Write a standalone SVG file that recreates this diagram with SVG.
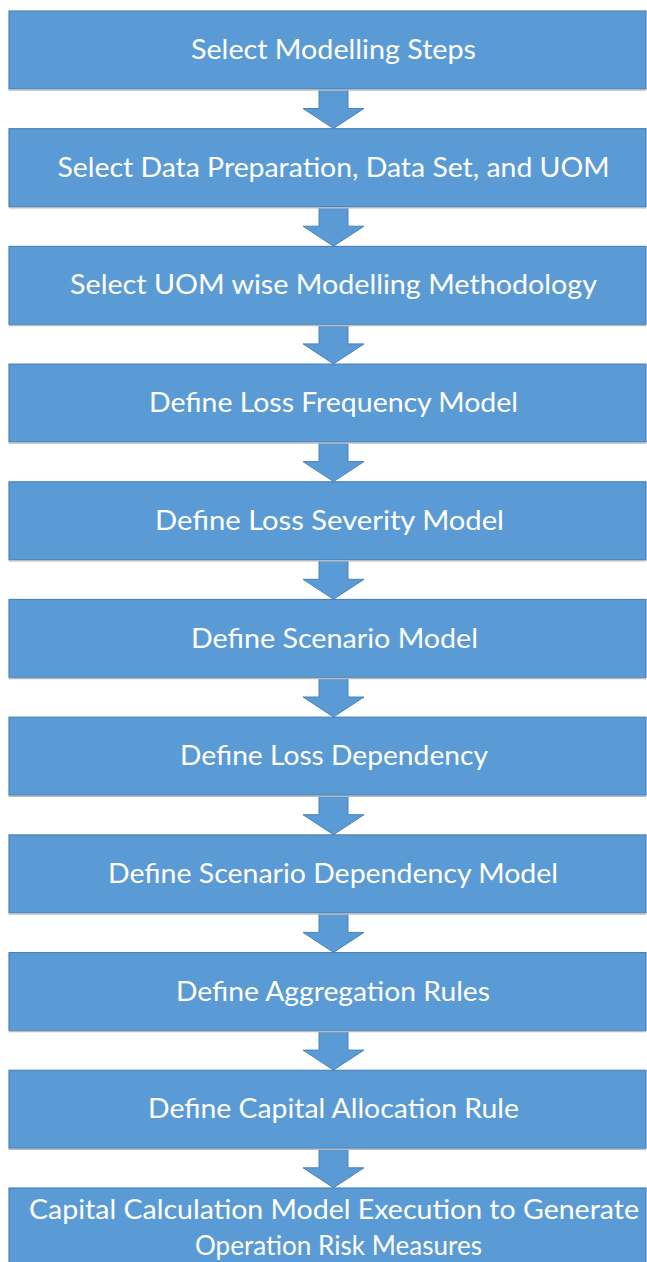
<svg xmlns="http://www.w3.org/2000/svg" width="647" height="1262" viewBox="0 0 647 1262">
<style>
.box{fill:#5b9bd5;stroke:#4a83ba;stroke-width:1.2}
.shadow{fill:none;stroke:#b8bcc2;stroke-width:1.5}
.arr{fill:#5b9bd5;stroke:#4a83ba;stroke-width:1}
.t{font-family:Lato,"Open Sans","Liberation Sans",sans-serif;font-size:26px;fill:#ffffff;text-anchor:middle}
</style>
<defs>
<path id="arrow" class="arr" d="M319,0 H348 V19.5 H364 L333.5,39.5 L303,19.5 H319 Z"/>
</defs>
<g id="connectors">
<use href="#arrow" transform="translate(0,89)"/>
<use href="#arrow" transform="translate(0,206.7)"/>
<use href="#arrow" transform="translate(0,324.4)"/>
<use href="#arrow" transform="translate(0,442.1)"/>
<use href="#arrow" transform="translate(0,559.8)"/>
<use href="#arrow" transform="translate(0,677.5)"/>
<use href="#arrow" transform="translate(0,795.2)"/>
<use href="#arrow" transform="translate(0,912.9)"/>
<use href="#arrow" transform="translate(0,1030.6)"/>
<use href="#arrow" transform="translate(0,1148.3)"/>
</g>
<g id="n1"><rect class="box" x="9" y="11" width="637" height="78"/><line class="shadow" x1="9" y1="90" x2="646" y2="90"/><text class="t" x="333.5" y="59" textLength="285" lengthAdjust="spacingAndGlyphs">Select Modelling Steps</text></g>
<g id="n2"><rect class="box" x="9" y="128.7" width="637" height="78"/><line class="shadow" x1="9" y1="207.7" x2="646" y2="207.7"/><text class="t" x="333.5" y="176.7" textLength="552" lengthAdjust="spacingAndGlyphs">Select Data Preparation, Data Set, and UOM</text></g>
<g id="n3"><rect class="box" x="9" y="246.4" width="637" height="78"/><line class="shadow" x1="9" y1="325.4" x2="646" y2="325.4"/><text class="t" x="333.5" y="294.4" textLength="527" lengthAdjust="spacingAndGlyphs">Select UOM wise Modelling Methodology</text></g>
<g id="n4"><rect class="box" x="9" y="364.1" width="637" height="78"/><line class="shadow" x1="9" y1="443.1" x2="646" y2="443.1"/><text class="t" x="333.5" y="412.1" textLength="369" lengthAdjust="spacingAndGlyphs">Define Loss Frequency Model</text></g>
<g id="n5"><rect class="box" x="9" y="481.8" width="637" height="78"/><line class="shadow" x1="9" y1="560.8" x2="646" y2="560.8"/><text class="t" x="329.5" y="529.8" textLength="349" lengthAdjust="spacingAndGlyphs">Define Loss Severity Model</text></g>
<g id="n6"><rect class="box" x="9" y="599.5" width="637" height="78"/><line class="shadow" x1="9" y1="678.5" x2="646" y2="678.5"/><text class="t" x="334.5" y="647.5" textLength="287" lengthAdjust="spacingAndGlyphs">Define Scenario Model</text></g>
<g id="n7"><rect class="box" x="9" y="717.2" width="637" height="78"/><line class="shadow" x1="9" y1="796.2" x2="646" y2="796.2"/><text class="t" x="334" y="765.2" textLength="308" lengthAdjust="spacingAndGlyphs">Define Loss Dependency</text></g>
<g id="n8"><rect class="box" x="9" y="834.9" width="637" height="78"/><line class="shadow" x1="9" y1="913.9" x2="646" y2="913.9"/><text class="t" x="333" y="882.9" textLength="450" lengthAdjust="spacingAndGlyphs">Define Scenario Dependency Model</text></g>
<g id="n9"><rect class="box" x="9" y="952.6" width="637" height="78"/><line class="shadow" x1="9" y1="1031.6" x2="646" y2="1031.6"/><text class="t" x="333" y="1000.6" textLength="314" lengthAdjust="spacingAndGlyphs">Define Aggregation Rules</text></g>
<g id="n10"><rect class="box" x="9" y="1070.3" width="637" height="78"/><line class="shadow" x1="9" y1="1149.3" x2="646" y2="1149.3"/><text class="t" x="333.5" y="1118.3" textLength="371" lengthAdjust="spacingAndGlyphs">Define Capital Allocation Rule</text></g>
<g id="n11"><rect class="box" x="9" y="1188" width="637" height="80"/><text class="t" x="334" y="1219" textLength="610" lengthAdjust="spacingAndGlyphs">Capital Calculation Model Execution to Generate</text><text class="t" x="338.5" y="1255" textLength="287" lengthAdjust="spacingAndGlyphs">Operation Risk Measures</text></g>
</svg>
